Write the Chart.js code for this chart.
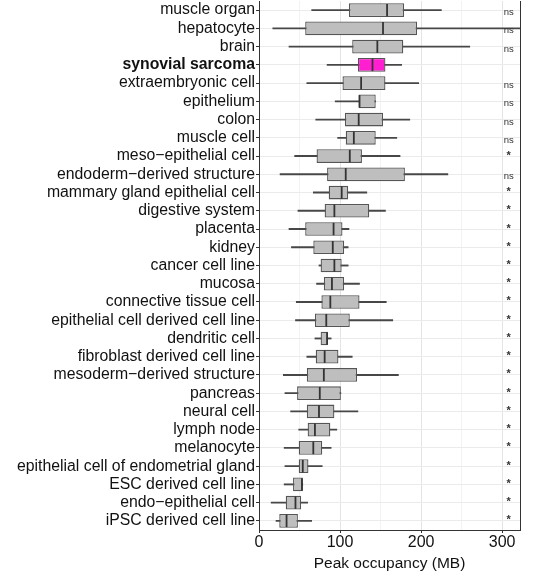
<!DOCTYPE html>
<html>
<head>
<meta charset="utf-8">
<script src="https://cdn.jsdelivr.net/npm/chart.js@4/dist/chart.umd.min.js"></script>
<style>
  html, body { margin: 0; padding: 0; background: #fff; }
  #wrap { width: 533px; height: 576px; }
</style>
</head>
<body>
<div id="wrap"><canvas id="boxChart"></canvas></div>
<script>
// categories, top to bottom
const tissues = [
    'muscle organ', 'hepatocyte', 'brain', 'synovial sarcoma', 'extraembryonic cell',
    'epithelium', 'colon', 'muscle cell', 'meso\u2212epithelial cell', 'endoderm\u2212derived structure',
    'mammary gland epithelial cell', 'digestive system', 'placenta', 'kidney', 'cancer cell line',
    'mucosa', 'connective tissue cell', 'epithelial cell derived cell line', 'dendritic cell',
    'fibroblast derived cell line', 'mesoderm\u2212derived structure', 'pancreas', 'neural cell',
    'lymph node', 'melanocyte', 'epithelial cell of endometrial gland', 'ESC derived cell line',
    'endo\u2212epithelial cell', 'iPSC derived cell line'
];

// box statistics (MB)
const whiskerLow = [65, 17, 37, 84, 59, 94, 70, 97, 44, 26, 67, 48, 37, 40, 74, 71, 46, 45, 69, 59, 30, 32, 39, 49, 31, 32, 31, 15, 21];
const q1         = [111, 57, 115, 122, 103, 123, 106, 107, 71, 84, 86, 81, 57, 67, 76, 80, 77, 69, 76, 70, 59, 47, 59, 60, 49, 49, 42, 33, 25];
const medians    = [158, 153, 146, 140, 126, 124, 123, 117, 112, 107, 102, 93, 92, 91, 93, 90, 88, 83, 84, 81, 80, 75, 74, 69, 67, 54, 53, 45, 34];
const q3         = [179, 195, 178, 156, 156, 144, 153, 144, 127, 180, 110, 136, 103, 105, 102, 105, 124, 112, 85, 98, 121, 101, 93, 88, 78, 61, 54, 52, 48];
const whiskerHigh = [225, 330, 260, 176, 197, 144, 186, 170, 174, 233, 133, 156, 111, 110, 110, 124, 157, 165, 89, 115, 172, 101, 122, 96, 89, 78, 54, 60, 65];

// significance vs synovial sarcoma
const signif = ['ns', 'ns', 'ns', '', 'ns', 'ns', 'ns', 'ns', '*', 'ns', '*', '*', '*', '*', '*',
    '*', '*', '*', '*', '*', '*', '*', '*', '*', '*', '*', '*', '*', '*'];

const xTicks = [0, 50, 100, 150, 200, 250, 300];
const highlight = 'synovial sarcoma';

const boxFill = tissues.map(t => t === highlight ? '#ff1fd0' : '#bebebe');

// median lines + significance labels
const boxExtras = {
    id: 'boxExtras',
    afterDatasetsDraw(chart) {
        const ctx = chart.ctx;
        const xs = chart.scales.x;
        const ys = chart.scales.y;
        const half = ys.height / tissues.length * 0.75 / 2 - 0.6;
        ctx.save();
        ctx.beginPath();
        ctx.rect(chart.chartArea.left, chart.chartArea.top, chart.chartArea.width, chart.chartArea.height);
        ctx.clip();
        ctx.strokeStyle = '#333333';
        ctx.lineWidth = 1.8;
        medians.forEach((m, i) => {
            const px = xs.getPixelForValue(m);
            const py = ys.getPixelForValue(i);
            ctx.beginPath();
            ctx.moveTo(px, py - half);
            ctx.lineTo(px, py + half);
            ctx.stroke();
        });
        ctx.restore();

        ctx.save();
        ctx.fillStyle = '#333333';
        ctx.textAlign = 'center';
        ctx.textBaseline = 'alphabetic';
        const sx = xs.getPixelForValue(308);
        signif.forEach((s, i) => {
            if (!s) return;
            const py = ys.getPixelForValue(i);
            if (s === '*') {
                ctx.font = 'bold 11px "Liberation Sans", Arial, sans-serif';
                ctx.fillText(s, sx, py + 2.5);
            } else {
                ctx.font = '9.5px "Liberation Sans", Arial, sans-serif';
                ctx.fillText(s, sx, py + 5);
            }
        });
        ctx.restore();
    }
};

new Chart(document.getElementById('boxChart'), {
    type: 'bar',
    data: {
        labels: tissues,
        datasets: [
            {
                label: 'box',
                data: tissues.map((t, i) => [q1[i], q3[i]]),
                backgroundColor: boxFill,
                borderColor: '#555555',
                borderWidth: 1.3,
                borderSkipped: false,
                categoryPercentage: 1,
                barPercentage: 0.75,
                grouped: false
            },
            {
                label: 'whisker',
                data: tissues.map((t, i) => [whiskerLow[i], whiskerHigh[i]]),
                backgroundColor: '#474747',
                borderWidth: 0,
                barThickness: 1.2,
                grouped: false
            }
        ]
    },
    options: {
        indexAxis: 'y',
        responsive: true,
        maintainAspectRatio: false,
        animation: false,
        layout: { padding: { top: 1, left: 0, right: 0, bottom: 0 } },
        plugins: {
            legend: { display: false },
            tooltip: { enabled: false }
        },
        scales: {
            x: {
                type: 'linear',
                position: 'bottom',
                min: 0,
                max: 322,
                afterBuildTicks: s => { s.ticks = xTicks.map(v => ({ value: v })); },
                afterFit: s => { s.height = 46; },
                ticks: {
                    autoSkip: false,
                    maxRotation: 0,
                    padding: 0,
                    color: '#111111',
                    font: { family: '"Liberation Sans", Arial, sans-serif', size: 16 },
                    callback: v => (v % 100 === 0 ? String(v) : '')
                },
                grid: {
                    color: c => (c.tick && c.tick.value % 100 === 0 ? '#e4e4e4' : '#f0f0f0'),
                    lineWidth: c => (c.tick && c.tick.value % 100 === 0 ? 1 : 0.8),
                    tickColor: c => (c.tick && c.tick.value % 100 === 0 ? '#333333' : 'rgba(0,0,0,0)'),
                    tickLength: 3
                },
                border: { display: true, color: '#333333', width: 1 },
                title: {
                    display: true,
                    text: 'Peak occupancy (MB)',
                    color: '#111111',
                    font: { family: '"Liberation Sans", Arial, sans-serif', size: 15.5 },
                    padding: { top: 0, bottom: 3 }
                }
            },
            y: {
                type: 'category',
                position: 'left',
                offset: true,
                afterFit: s => {
                    s.width = 259;
                    s.paddingTop = 0;
                    s.paddingBottom = 0;
                },
                ticks: {
                    autoSkip: false,
                    padding: 1,
                    color: '#111111',
                    font: c => ({
                        family: '"Liberation Sans", Arial, sans-serif',
                        size: 15.8,
                        weight: tissues[c.index] === highlight ? 'bold' : 'normal'
                    })
                },
                grid: {
                    offset: false,
                    color: '#ebebeb',
                    lineWidth: 1,
                    tickColor: '#333333',
                    tickLength: 3
                },
                border: { display: true, color: '#333333', width: 1 }
            },
            y2: {
                type: 'category',
                position: 'right',
                labels: tissues,
                offset: true,
                afterFit: s => {
                    s.width = 13;
                    s.paddingTop = 0;
                    s.paddingBottom = 0;
                },
                ticks: { display: false },
                grid: { display: false, drawTicks: false },
                border: { display: true, color: '#333333', width: 1 }
            }
        }
    },
    plugins: [boxExtras]
});
</script>
</body>
</html>
